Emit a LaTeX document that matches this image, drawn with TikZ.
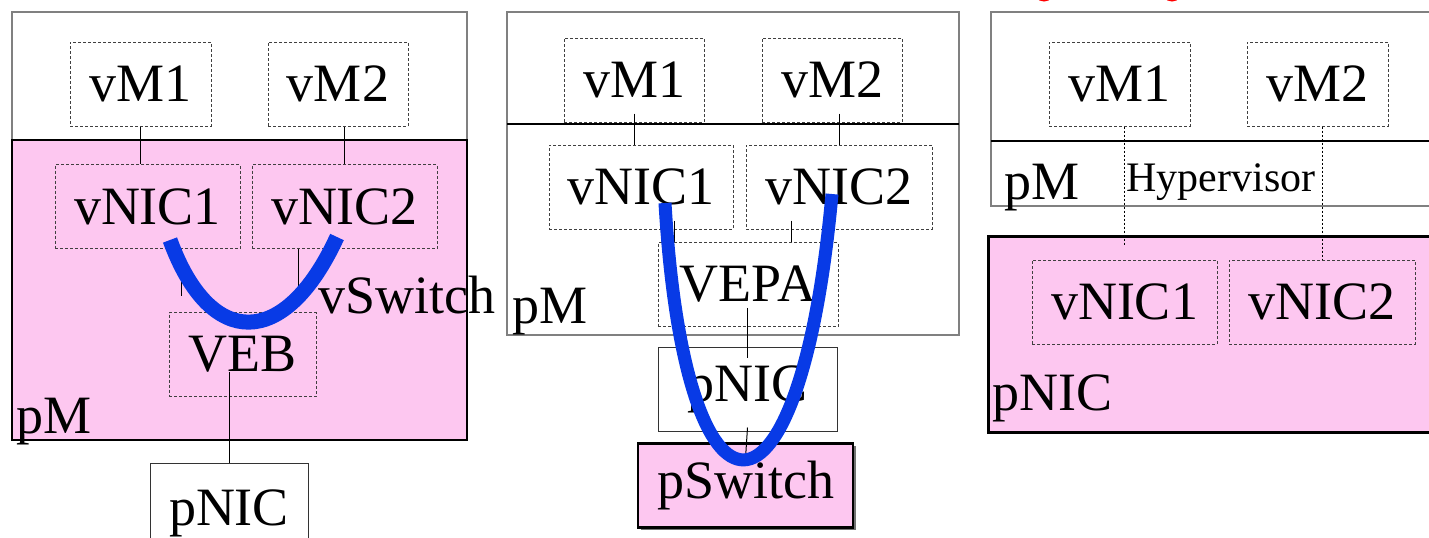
\documentclass[tikz,border=0pt]{standalone}
\usepackage{fontspec}
\setmainfont{Liberation Serif}
\usetikzlibrary{shadows}
\definecolor{hostpink}{RGB}{253,199,240}
\definecolor{pathblue}{RGB}{8,58,230}
\tikzset{
  vbox/.style={draw=black!75, dash pattern=on 1.5pt off 1pt, line width=0.5pt, inner sep=0pt, minimum height=42pt, font=\fontsize{27}{29}\selectfont},
  pbox/.style={draw=black!80, line width=0.5pt, inner sep=0pt, minimum height=42pt, font=\fontsize{27}{29}\selectfont},
  lbl/.style={anchor=base west, inner sep=0pt, font=\fontsize{27}{29}\selectfont},
  host/.style={draw=black!50, line width=0.75pt},
  wire/.style={line width=0.5pt},
  tap/.style={line width=0.5pt, dash pattern=on 1pt off 1pt},
  flow/.style={pathblue, line width=6pt},
}

\begin{document}
\begin{tikzpicture}[x=0.5pt,y=-0.5pt]
    \useasboundingbox (0,0) rectangle (1429,537);

    % red marks cut off at the top edge
    \draw [red, line width=1.5pt] (1044,-12) ellipse (10 and 12);
    \draw [red, line width=1.5pt] (1172,-12) ellipse (10 and 12);

    %% ---- VEB ----
    %Shape: Rectangle
    \draw [host] (12,12) rectangle (467,140);
    \draw [fill=hostpink, line width=1pt] (12,140) rectangle (467,440);
    % Text Node
    \node [vbox, minimum width=70.5pt] (vM1L) at (140.5,84) {vM1};
    \node [vbox, minimum width=70pt] (vM2L) at (338,84) {vM2};
    \node [vbox, minimum width=92.5pt] (vNIC1L) at (147.5,206.5) {vNIC1};
    \node [vbox, minimum width=92.5pt] (vNIC2L) at (344.5,206.5) {vNIC2};
    \node [vbox, minimum width=73.5pt] (VEBL) at (242.5,354.5) {VEB};
    \node [pbox, minimum width=79pt, minimum height=50pt] (pNICL) at (229,513) {pNIC};
    \node [lbl] (vSwL) at (318,313) {vSwitch};
    \node [lbl] (pML) at (16,433) {pM};
    \coordinate (swL1) at (181,296);
    \coordinate (swL2) at (298,296);
    %Straight Lines
    \draw [wire] (vM1L.south) -- (vM1L.south |- vNIC1L.north);
    \draw [wire] (vNIC2L.north) -- (vNIC2L.north |- vM2L.south);
    \draw [wire] (vNIC1L.south -| swL1) -- (swL1);
    \draw [wire] (vNIC2L.south -| swL2) -- (swL2);
    \draw [wire] (pNICL.north) -- (pNICL.north |- VEBL.base);
    %Curve Lines
    \coordinate (inL) at (170,240);
    \coordinate (outL) at (337,237);
    \draw [flow, line width=7.5pt] (inL) .. controls (210,350) and (285,350) .. (outL);

    %% ---- VEPA ----
    %Shape: Rectangle
    \draw [host] (507,12) rectangle (959,335);
    \draw [line width=1pt] (507,124) -- (959,124);
    % Text Node
    \node [vbox, minimum width=70pt] (vM1M) at (634,80) {vM1};
    \node [vbox, minimum width=70pt] (vM2M) at (832,80) {vM2};
    \node [vbox, minimum width=92pt] (vNIC1M) at (641,187) {vNIC1};
    \node [vbox, minimum width=93pt] (vNIC2M) at (839,187) {vNIC2};
    \node [vbox, minimum width=90pt] (VEPAM) at (748,284.5) {VEPA};
    \node [pbox, minimum width=89.5pt] (pNICM) at (747.5,389) {pNIC};
    \node [pbox, draw=black, line width=1.2pt, fill=hostpink, minimum width=107.5pt,
           drop shadow={shadow xshift=1.5pt, shadow yshift=-1pt, fill=black!55, opacity=1}] (pSwM) at (745.5,485.5) {pSwitch};
    \node [lbl] (pMM) at (512,323) {pM};
    \coordinate (tapM1) at (674,242);
    \coordinate (tapM2) at (791,242);
    %Straight Lines
    \draw [wire] ([yshift=4.5pt]vM1M.south) -- (vM1M.south |- vNIC1M.north);
    \draw [wire] ([yshift=4.5pt]vNIC2M.north |- vM2M.south) -- (vNIC2M.north);
    \draw [wire] ([yshift=4.5pt]tapM1 |- vNIC1M.south) -- (tapM1);
    \draw [wire] ([yshift=4.5pt]tapM2 |- vNIC2M.south) -- (tapM2);
    \draw [wire] ([yshift=-3pt]VEPAM.base -| pNICM.north) -- ([yshift=-5.5pt]pNICM.north);
    \draw [wire] ([yshift=2pt]pNICM.south) -- ([yshift=-8pt]pSwM.north);
    %Curve Lines
    \coordinate (inM) at (665,203);
    \coordinate (outM) at (832,194);
    \draw [flow, line width=6.5pt] (inM) .. controls (685,547) and (800,547) .. (outM);

    %% ---- Hypervisor / pNIC ----
    %Shape: Rectangle
    \draw [host] (991,12) rectangle (1445,206);
    \draw [line width=1pt] (991,141) -- (1445,141);
    \draw [fill=hostpink, line width=1.5pt] (988,236) rectangle (1445,432);
    % Text Node
    \node [vbox, minimum width=70.5pt] (vM1R) at (1119.5,84) {vM1};
    \node [vbox, minimum width=70.5pt] (vM2R) at (1317.5,84) {vM2};
    \node [vbox, minimum width=92.5pt] (vNIC1R) at (1124.5,302) {vNIC1};
    \node [vbox, minimum width=93pt] (vNIC2R) at (1322,302) {vNIC2};
    \node [lbl] (pMR) at (1004,199) {pM};
    \node [lbl, font=\fontsize{21}{24}\selectfont] (hypR) at (1126,191) {Hypervisor};
    \node [lbl] (pNICR) at (992,410) {pNIC};
    %Straight Lines
    \draw [tap] (vM1R.south -| vNIC1R.north) -- ([yshift=6.5pt]vNIC1R.north);
    \draw [tap] (vM2R.south -| vNIC2R.north) -- (vNIC2R.north);
\end{tikzpicture}
\end{document}
